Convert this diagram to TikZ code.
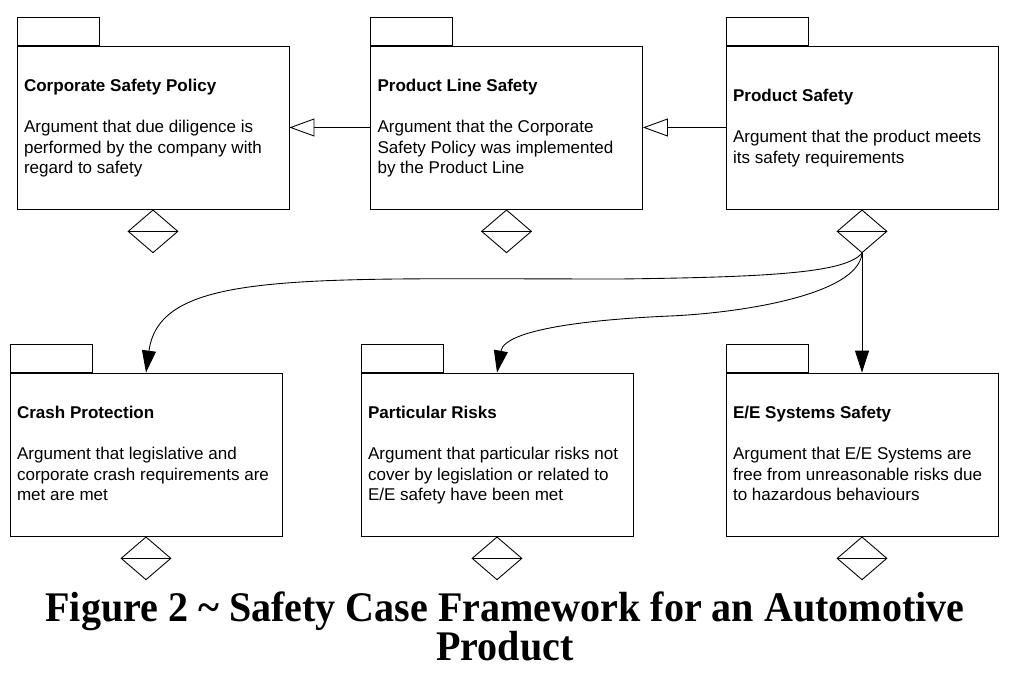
\documentclass[tikz,border=0pt]{standalone}
\usepackage{fontspec}
\setsansfont{Liberation Sans}
\newfontfamily\capfont{Liberation Serif}[FakeStretch=0.95]
\usetikzlibrary{arrows.meta,shapes.geometric,positioning}

\begin{document}
\begin{tikzpicture}[x=0.02cm, y=-0.02cm, line width=0.5pt, black,
    pkg/.style={draw, minimum width=5.44cm, minimum height=3.26cm, inner sep=0pt},
    tab/.style={draw, minimum width=1.64cm, minimum height=0.56cm, inner sep=0pt, anchor=south west},
    dia/.style={draw, diamond, minimum width=1cm, minimum height=0.86cm, inner sep=0pt, anchor=north},
    txt/.style={anchor=west, align=left, inner sep=0pt, font=\sffamily\fontsize{9.7}{11.65}\selectfont},
    gen/.style={-{Triangle[open, length=0.5cm, width=0.36cm]}},
    dep/.style={-{Triangle[length=0.44cm, width=0.28cm]}}]

    \useasboundingbox (0,0) rectangle (1010,695);

    %packages top row
    \node[pkg] (cs) at (153,127.5) {};
    \node[pkg] (pl) at (506.5,127.5) {};
    \node[pkg] (ps) at (862,127.5) {};
    %packages bottom row
    \node[pkg] (cp) at (146,454.5) {};
    \node[pkg] (pr) at (497,454.5) {};
    \node[pkg] (ee) at (862,454.5) {};

    %tabs and diamonds
    \foreach \p in {cs,pl,ps,cp,pr,ee}{
        \node[tab] (\p-tab) at (\p.north west) {};
        \node[dia] (\p-d) at (\p.south) {};
        \draw (\p-d.west) -- (\p-d.east);
    }

    %texts
    \node[txt] (cs-t) at ([xshift=0.14cm,yshift=-0.02cm]cs.west) {\strut\textbf{Corporate Safety Policy}\\[11.65pt]
    Argument that due diligence is\\performed by the company with\\regard to safety\strut};
    \node[txt] (pl-t) at ([xshift=0.14cm,yshift=-0.02cm]pl.west) {\strut\textbf{Product Line Safety}\\[11.65pt]
    Argument that the Corporate\\Safety Policy was implemented\\by the Product Line\strut};
    \node[txt] (ps-t) at ([xshift=0.14cm,yshift=-0.02cm]ps.west) {\strut\textbf{Product Safety}\\[11.65pt]
    Argument that the product meets\\its safety requirements\strut};
    \node[txt] (cp-t) at ([xshift=0.14cm,yshift=-0.02cm]cp.west) {\strut\textbf{Crash Protection}\\[11.65pt]
    Argument that legislative and\\corporate crash requirements are\\met are met\strut};
    \node[txt] (pr-t) at ([xshift=0.14cm,yshift=-0.02cm]pr.west) {\strut\textbf{Particular Risks}\\[11.65pt]
    Argument that particular risks not\\cover by legislation or related to\\E/E safety have been met\strut};
    \node[txt] (ee-t) at ([xshift=0.14cm,yshift=-0.02cm]ee.west) {\strut\textbf{E/E Systems Safety}\\[11.65pt]
    Argument that E/E Systems are\\free from unreasonable risks due\\to hazardous behaviours\strut};

    %generalisation arrows
    \draw[gen] (pl.west) -- (cs.east);
    \draw[gen] (ps.west) -- (pl.east);

    %dependencies
    \draw[dep] (ps-d.south) .. controls (845,272) and (780,277) .. (620,279)
        .. controls (300,279) and (160,270) .. (cp.north);
    \draw[dep] (ps-d.south) .. controls (858,295) and (740,313) .. (670,316)
        .. controls (600,319) and (505,328) .. (pr.north);
    \draw[dep] (ps-d.south) -- (ee.north);

    %caption
    \node[font=\capfont\bfseries\fontsize{24}{22.2}\selectfont, align=center, inner sep=0pt] (cap) at (505,626)
    {Figure 2 \textasciitilde{} Safety Case Framework for an Automotive\\Product};

\end{tikzpicture}
\end{document}
